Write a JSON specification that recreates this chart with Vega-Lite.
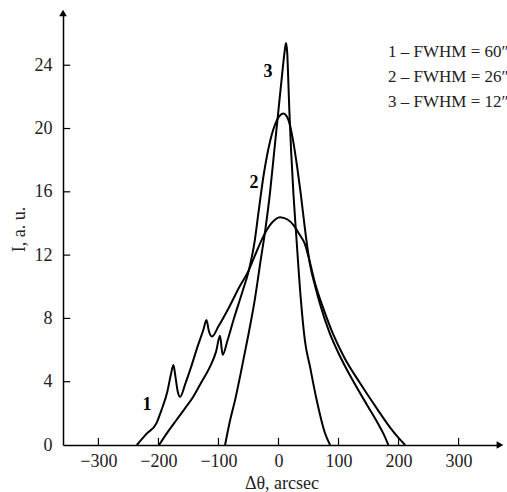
{
  "$schema": "https://vega.github.io/schema/vega-lite/v6.json",
  "width": 437,
  "height": 432,
  "padding": {"left": 63, "top": 13, "right": 7, "bottom": 47},
  "autosize": {"type": "none"},
  "background": "white",
  "config": {
    "view": {"stroke": null},
    "font": "Liberation Serif",
    "axis": {
      "grid": false,
      "ticks": false,
      "domainColor": "black",
      "domainWidth": 1.5,
      "labelFont": "Liberation Serif",
      "labelFontSize": 18,
      "labelColor": "#222",
      "titleFont": "Liberation Serif",
      "titleFontSize": 18,
      "titleFontWeight": "normal",
      "titleColor": "#222"
    }
  },
  "datasets": {
    "curves": [
      {"c": "1", "x": -236, "y": 0},
      {"c": "1", "x": -220, "y": 0.7},
      {"c": "1", "x": -203, "y": 1.4},
      {"c": "1", "x": -195, "y": 2.2},
      {"c": "1", "x": -185, "y": 3.4},
      {"c": "1", "x": -179, "y": 4.5},
      {"c": "1", "x": -175, "y": 5.05},
      {"c": "1", "x": -172, "y": 4.4},
      {"c": "1", "x": -168, "y": 3.4},
      {"c": "1", "x": -164, "y": 3.05},
      {"c": "1", "x": -155, "y": 3.9},
      {"c": "1", "x": -145, "y": 5.0},
      {"c": "1", "x": -135, "y": 6.2},
      {"c": "1", "x": -125, "y": 7.3},
      {"c": "1", "x": -120, "y": 7.9},
      {"c": "1", "x": -116, "y": 7.2},
      {"c": "1", "x": -111, "y": 6.85},
      {"c": "1", "x": -100, "y": 7.5},
      {"c": "1", "x": -81, "y": 8.8},
      {"c": "1", "x": -65, "y": 10.0},
      {"c": "1", "x": -50, "y": 11.0},
      {"c": "1", "x": -39, "y": 12.0},
      {"c": "1", "x": -25, "y": 13.2},
      {"c": "1", "x": -12, "y": 14.0},
      {"c": "1", "x": 2.5, "y": 14.4},
      {"c": "1", "x": 15, "y": 14.25},
      {"c": "1", "x": 25, "y": 13.9},
      {"c": "1", "x": 35, "y": 13.3},
      {"c": "1", "x": 44, "y": 12.7},
      {"c": "1", "x": 52, "y": 11.6},
      {"c": "1", "x": 61, "y": 10.2},
      {"c": "1", "x": 75, "y": 8.6},
      {"c": "1", "x": 91, "y": 7.0},
      {"c": "1", "x": 110, "y": 5.5},
      {"c": "1", "x": 136, "y": 3.9},
      {"c": "1", "x": 164, "y": 2.3},
      {"c": "1", "x": 186, "y": 1.1},
      {"c": "1", "x": 200, "y": 0.45},
      {"c": "1", "x": 211, "y": 0},
      {"c": "2", "x": -199, "y": 0},
      {"c": "2", "x": -185, "y": 0.8},
      {"c": "2", "x": -170, "y": 1.58},
      {"c": "2", "x": -156, "y": 2.3},
      {"c": "2", "x": -142, "y": 3.05},
      {"c": "2", "x": -128, "y": 4.0},
      {"c": "2", "x": -114, "y": 4.95},
      {"c": "2", "x": -104, "y": 5.9},
      {"c": "2", "x": -97.5, "y": 6.9},
      {"c": "2", "x": -93, "y": 5.7},
      {"c": "2", "x": -85, "y": 6.6},
      {"c": "2", "x": -75, "y": 7.9},
      {"c": "2", "x": -60, "y": 9.7},
      {"c": "2", "x": -50, "y": 10.95},
      {"c": "2", "x": -40, "y": 12.8},
      {"c": "2", "x": -33, "y": 14.8},
      {"c": "2", "x": -25, "y": 17.0},
      {"c": "2", "x": -14, "y": 19.2},
      {"c": "2", "x": -3, "y": 20.5},
      {"c": "2", "x": 8, "y": 20.95},
      {"c": "2", "x": 16, "y": 20.6},
      {"c": "2", "x": 24, "y": 19.3},
      {"c": "2", "x": 31, "y": 17.6},
      {"c": "2", "x": 37, "y": 15.9},
      {"c": "2", "x": 42, "y": 14.3},
      {"c": "2", "x": 47, "y": 12.8},
      {"c": "2", "x": 53, "y": 11.3},
      {"c": "2", "x": 61, "y": 10.05},
      {"c": "2", "x": 70, "y": 8.8},
      {"c": "2", "x": 85, "y": 7.1},
      {"c": "2", "x": 100, "y": 5.8},
      {"c": "2", "x": 122, "y": 4.2},
      {"c": "2", "x": 148, "y": 2.5},
      {"c": "2", "x": 165, "y": 1.4},
      {"c": "2", "x": 175, "y": 0.7},
      {"c": "2", "x": 183, "y": 0},
      {"c": "3", "x": -89, "y": 0},
      {"c": "3", "x": -81, "y": 1.5},
      {"c": "3", "x": -72, "y": 2.9},
      {"c": "3", "x": -61, "y": 4.9},
      {"c": "3", "x": -50, "y": 7.0},
      {"c": "3", "x": -39, "y": 9.3},
      {"c": "3", "x": -30, "y": 11.6},
      {"c": "3", "x": -22, "y": 13.6},
      {"c": "3", "x": -14, "y": 16.0},
      {"c": "3", "x": -7, "y": 18.6},
      {"c": "3", "x": 0, "y": 21.2},
      {"c": "3", "x": 6, "y": 23.4},
      {"c": "3", "x": 10, "y": 24.8},
      {"c": "3", "x": 12.5, "y": 25.4},
      {"c": "3", "x": 14.5, "y": 24.8},
      {"c": "3", "x": 16, "y": 23.4},
      {"c": "3", "x": 18, "y": 21.2},
      {"c": "3", "x": 21, "y": 18.6},
      {"c": "3", "x": 25, "y": 15.8},
      {"c": "3", "x": 30, "y": 13.0},
      {"c": "3", "x": 37, "y": 9.3},
      {"c": "3", "x": 44, "y": 6.6},
      {"c": "3", "x": 52.5, "y": 4.95},
      {"c": "3", "x": 63.6, "y": 2.84},
      {"c": "3", "x": 77.5, "y": 0.74},
      {"c": "3", "x": 86, "y": 0}
    ],
    "curveLabels": [
      {"t": "1", "x": -219, "y": 2.5},
      {"t": "2", "x": -41, "y": 16.55},
      {"t": "3", "x": -17.5, "y": 23.6}
    ],
    "legend": [
      {"t": "1 – FWHM = 60″", "x": 182.5, "y": 24.85},
      {"t": "2 – FWHM = 26″", "x": 182.5, "y": 23.25},
      {"t": "3 – FWHM = 12″", "x": 182.5, "y": 21.7}
    ],
    "arrows": [
      {"x": -359, "y": 27.3, "s": "triangle-up"},
      {"x": 369, "y": 0, "s": "triangle-right"}
    ],
    "xticks": [
      {"v": -300}, {"v": -200}, {"v": -100}, {"v": 0}, {"v": 100}, {"v": 200}, {"v": 300}
    ],
    "yticks": [
      {"v": 4}, {"v": 8}, {"v": 12}, {"v": 16}, {"v": 20}, {"v": 24}
    ]
  },
  "layer": [
    {
      "data": {"name": "curves"},
      "mark": {"type": "line", "interpolate": "monotone", "color": "black", "strokeWidth": 2},
      "encoding": {
        "x": {
          "field": "x", "type": "quantitative",
          "scale": {"domain": [-359, 369], "nice": false, "zero": false},
          "axis": {
            "values": [-300, -200, -100, 0, 100, 200, 300],
            "labelPadding": 7,
            "title": "Δθ, arcsec",
            "titlePadding": 4
          }
        },
        "y": {
          "field": "y", "type": "quantitative",
          "scale": {"domain": [0, 27.3], "nice": false, "zero": false},
          "axis": {
            "values": [0, 4, 8, 12, 16, 20, 24],
            "labelPadding": 11,
            "title": "I, a. u.",
            "titlePadding": 6
          }
        },
        "detail": {"field": "c"}
      }
    },
    {
      "data": {"name": "xticks"},
      "mark": {"type": "rule", "color": "black", "strokeWidth": 1.2},
      "encoding": {
        "x": {"field": "v", "type": "quantitative"},
        "y": {"datum": 0},
        "y2": {"datum": 0.45}
      }
    },
    {
      "data": {"name": "yticks"},
      "mark": {"type": "rule", "color": "black", "strokeWidth": 1.2},
      "encoding": {
        "y": {"field": "v", "type": "quantitative"},
        "x": {"datum": -359},
        "x2": {"datum": -347}
      }
    },
    {
      "data": {"name": "curveLabels"},
      "mark": {"type": "text", "font": "Liberation Serif", "fontSize": 18, "fontWeight": "bold", "color": "black"},
      "encoding": {
        "x": {"field": "x", "type": "quantitative"},
        "y": {"field": "y", "type": "quantitative"},
        "text": {"field": "t"}
      }
    },
    {
      "data": {"name": "legend"},
      "mark": {"type": "text", "font": "Liberation Serif", "fontSize": 17, "align": "left", "baseline": "middle", "color": "#222"},
      "encoding": {
        "x": {"field": "x", "type": "quantitative"},
        "y": {"field": "y", "type": "quantitative"},
        "text": {"field": "t"}
      }
    },
    {
      "data": {"name": "arrows"},
      "mark": {"type": "point", "filled": true, "color": "black", "size": 60, "opacity": 1},
      "encoding": {
        "x": {"field": "x", "type": "quantitative"},
        "y": {"field": "y", "type": "quantitative"},
        "shape": {"field": "s", "type": "nominal", "scale": null}
      }
    }
  ]
}
